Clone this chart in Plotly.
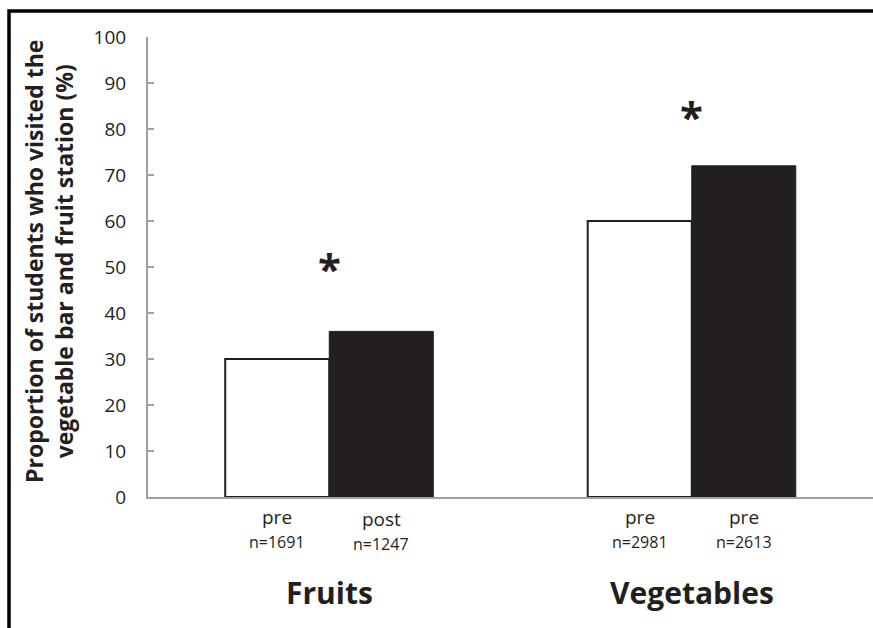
import plotly.graph_objects as go

categories = ["Fruits", "Vegetables"]
pre_values = [30, 60]
post_values = [36, 72]
first_labels = ["pre", "pre"]
second_labels = ["post", "pre"]
first_n = ["n=1691", "n=2981"]
second_n = ["n=1247", "n=2613"]
star_y = [50, 83]
y_ticks = [0, 10, 20, 30, 40, 50, 60, 70, 80, 90, 100]
y_title = "Proportion of students who visited the<br>vegetable bar and fruit station (%)"

FONT = "'Open Sans', Lato, sans-serif"
TXT = "#231f20"
W, H = 873, 628
ML, MR, MT, MB = 148, 0, 37, 131

fig = go.Figure()
fig.add_trace(go.Bar(x=categories, y=pre_values, name="pre",
                     marker=dict(color="white", line=dict(color=TXT, width=2))))
fig.add_trace(go.Bar(x=categories, y=post_values, name="post",
                     marker=dict(color=TXT, line=dict(color=TXT, width=1))))

bar_px = 104
ann = []
for i, c in enumerate(categories):
    for lab, n, sh, ys in [(first_labels[i], first_n[i], -bar_px / 2, 0),
                           (second_labels[i], second_n[i], bar_px / 2, 2 if i == 0 else 0)]:
        ann.append(dict(x=c, xref="x", y=0, yref="paper", xshift=sh, yshift=-20 - ys,
                        text=lab, showarrow=False, font=dict(family=FONT, size=19, color=TXT),
                        xanchor="center", yanchor="middle"))
        ann.append(dict(x=c, xref="x", y=0, yref="paper", xshift=sh, yshift=-45 - ys,
                        text=n, showarrow=False, font=dict(family=FONT, size=16, color=TXT),
                        xanchor="center", yanchor="middle"))
    ann.append(dict(x=c, xref="x", y=0, yref="paper", yshift=-95, text="<b>%s</b>" % c,
                    showarrow=False, font=dict(family=FONT, size=30, color=TXT),
                    xanchor="center", yanchor="middle"))
    ann.append(dict(x=c, xref="x", y=star_y[i], yref="y", text="<b>*</b>", showarrow=False,
                    font=dict(family=FONT, size=42, color=TXT), xanchor="center", yanchor="middle"))

ann.append(dict(x=0, xref="paper", y=0.5, yref="paper", xshift=-99, yshift=5,
                text="<b>%s</b>" % y_title,
                textangle=-90, showarrow=False, font=dict(family=FONT, size=23, color=TXT),
                xanchor="center", yanchor="middle"))

pw = W - ML - MR
ph = H - MT - MB
lx = (9 - ML) / pw
ty = (H - MB - 11) / ph
fig.add_shape(type="path", xref="paper", yref="paper",
              path="M %f,%f L %f,%f L %f,%f" % (lx, -0.3, lx, ty, 1.05, ty),
              line=dict(color="black", width=3.5))

fig.update_layout(
    width=W, height=H, margin=dict(l=ML, r=MR, t=MT, b=MB),
    paper_bgcolor="white", plot_bgcolor="white",
    barmode="group", bargap=0.426, bargroupgap=0,
    showlegend=False, annotations=ann,
    xaxis=dict(showticklabels=False, ticks="", showline=True, linecolor="#a0a0a4",
               linewidth=2, showgrid=False, zeroline=False),
    yaxis=dict(range=[0, 100], tickvals=y_ticks, ticks="inside", ticklen=6, tickwidth=2,
               tickcolor="#a0a0a4", showline=True, linecolor="#a0a0a4", linewidth=2,
               showgrid=False, zeroline=False, ticklabelstandoff=16,
               tickfont=dict(family=FONT, size=19, color=TXT)),
)
css_js = (
    "var s=document.createElement('style');"
    "s.textContent='html,body{margin:0;padding:0;overflow:hidden;scrollbar-width:none;}"
    "::-webkit-scrollbar{display:none;width:0;height:0;}';"
    "document.head.appendChild(s);"
)
fig.write_html("out.html", config={"displayModeBar": False}, post_script=css_js)
